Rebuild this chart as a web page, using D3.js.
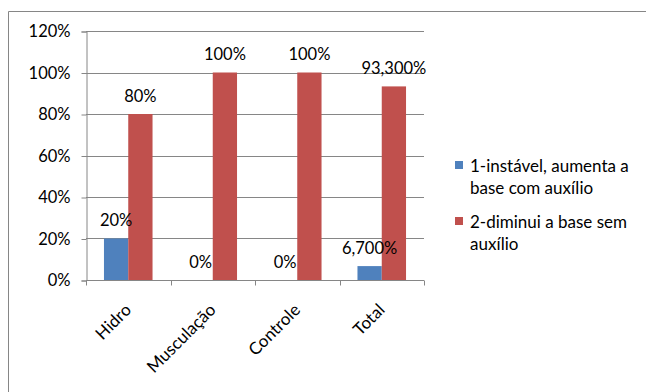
<!DOCTYPE html>
<html>
<head>
<meta charset="utf-8">
<script src="https://cdn.jsdelivr.net/npm/d3@7"></script>
<style>
html,body{margin:0;padding:0;background:#fff;}
svg{display:block;}
text{font-family:Lato,"Open Sans",sans-serif;fill:#000;}
</style>
</head>
<body>
<svg id="chart" width="646" height="392"></svg>
<script>
const categories = ["Hidro", "Musculação", "Controle", "Total"];
const seriesNames = ["1-instável, aumenta a base com auxílio", "2-diminui a base sem auxílio"];
const series1 = [0.20, 0.00, 0.00, 0.067];
const series2 = [0.80, 1.00, 1.00, 0.933];
const labels1 = ["20%", "0%", "0%", "6,700%"];
const labels2 = ["80%", "100%", "100%", "93,300%"];
const yTicks = [0, 0.2, 0.4, 0.6, 0.8, 1.0, 1.2];
const legendLines = [["1-instável, aumenta a", "base com auxílio"], ["2-diminui a base sem", "auxílio"]];
const colors = ["#4F81BD", "#C0504D"];

const svg = d3.select("#chart");
const pLeft = 86, pRight = 424, pTop = 31, pBottom = 280;
const grid = "#868686";

// outer frame
svg.append("path").attr("d", "M8.5,392 V11.5 H646").attr("fill", "none").attr("stroke", grid);

const x0 = d3.scaleBand().domain(categories).range([pLeft, pRight]).paddingInner(0).paddingOuter(0);
const x1 = d3.scaleBand().domain([0, 1]).range([0, x0.bandwidth()]).paddingInner(0).paddingOuter(0.74);
const y = d3.scaleLinear().domain([0, 1.2]).range([pBottom, pTop]);

// gridlines
svg.append("g").selectAll("line").data(yTicks.slice(1)).join("line")
  .attr("x1", pLeft).attr("x2", pRight)
  .attr("y1", d => Math.round(y(d)) + 0.5).attr("y2", d => Math.round(y(d)) + 0.5)
  .attr("stroke", grid);

// y axis
const yAxis = d3.axisLeft(y).tickValues(yTicks).tickSize(5).tickPadding(11)
  .tickFormat(d => Math.round(d * 100) + "%");
const gy = svg.append("g").attr("transform", `translate(${pLeft + 0.5},0.5)`).call(yAxis);
gy.select(".domain").attr("stroke", grid);
gy.selectAll(".tick line").attr("stroke", grid);
gy.selectAll(".tick text").attr("font-size", 16.5).attr("fill", "#000")
  .style("font-family", "Lato, sans-serif");

// bars
const data = categories.map((c, i) => ({c, vals: [series1[i], series2[i]], labs: [labels1[i], labels2[i]]}));
const gBars = svg.append("g");
const gLabels = svg.append("g");
data.forEach(d => {
  d.vals.forEach((v, s) => {
    const bx = x0(d.c) + x1(s);
    gBars.append("rect")
      .attr("x", bx).attr("width", x1.bandwidth())
      .attr("y", y(v)).attr("height", y(0) - y(v))
      .attr("fill", colors[s]);
    gLabels.append("text")
      .attr("x", bx + x1.bandwidth() / 2)
      .attr("y", y(v) - 12.5)
      .attr("text-anchor", "middle")
      .attr("font-size", 16.5)
      .text(d.labs[s]);
  });
});

// x axis
const gx = svg.append("g").attr("transform", `translate(0,${pBottom + 0.5})`);
gx.append("line").attr("x1", pLeft).attr("x2", pRight).attr("stroke", grid);
const bounds = categories.map(c => x0(c)).concat([pRight]);
gx.selectAll("line.t").data(bounds).join("line").attr("class", "t")
  .attr("x1", d => Math.round(d) + 0.5).attr("x2", d => Math.round(d) + 0.5)
  .attr("y1", 0).attr("y2", 5).attr("stroke", grid);
gx.selectAll("text").data(categories).join("text")
  .attr("text-anchor", "end")
  .attr("font-size", 17)
  .attr("transform", d => `translate(${x0(d) + x0.bandwidth() / 2 + 4},${30.5}) rotate(-45)`)
  .text(d => d);

// legend
const legY = [161, 217];
legendLines.forEach((lines, i) => {
  svg.append("rect").attr("x", 455).attr("y", legY[i]).attr("width", 8).attr("height", 8).attr("fill", colors[i]);
  lines.forEach((t, j) => {
    svg.append("text").attr("x", 470).attr("y", legY[i] + 11 + j * 21.5)
      .attr("font-size", 17).text(t);
  });
});
</script>
</body>
</html>
